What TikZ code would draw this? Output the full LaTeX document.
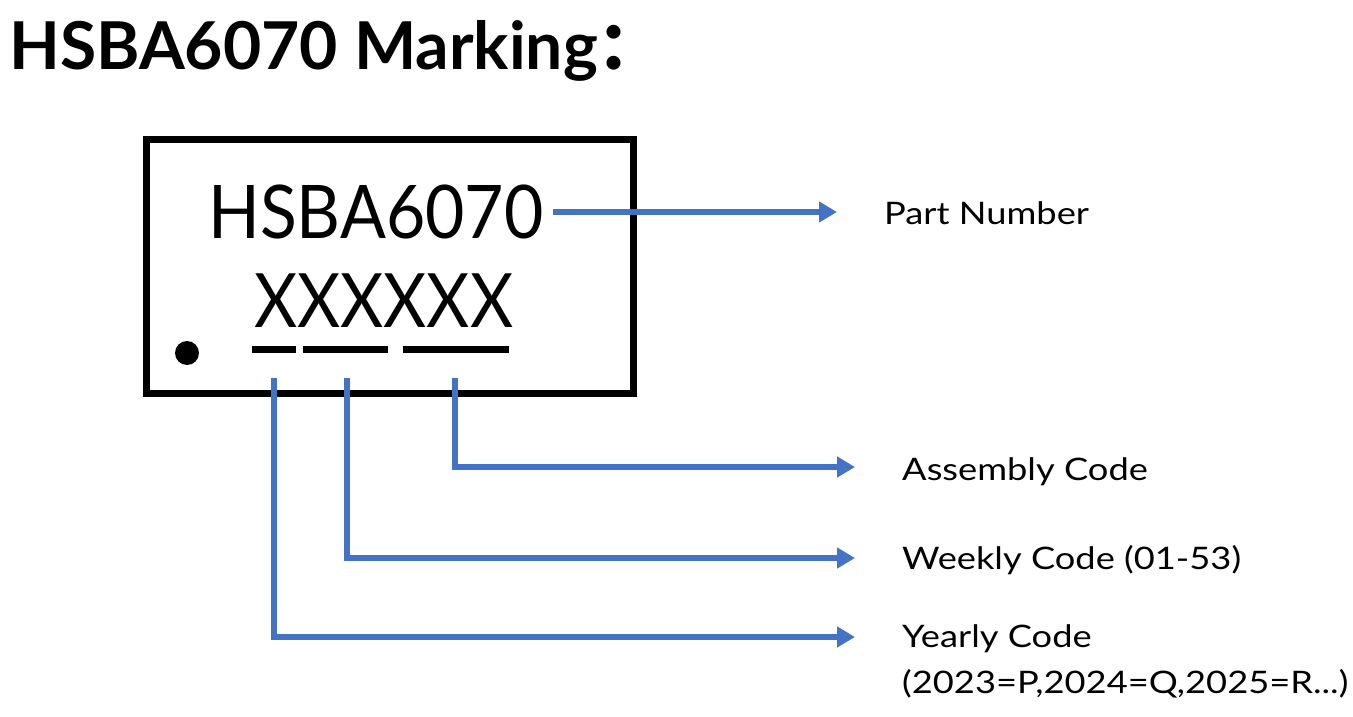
\documentclass[tikz,border=0pt]{standalone}
\usepackage{fontspec}
\usepackage{graphicx}
\setmainfont{Lato}
\newfontfamily\cjkfont{Noto Sans CJK SC}
\usetikzlibrary{arrows.meta}
\definecolor{linkblue}{HTML}{4472C4}
\newcommand{\wdlbl}[1]{\scalebox{1.17}[1]{#1}}
\tikzset{
  txt/.style={inner sep=0pt, anchor=base west, text=black},
  lbl/.style={txt, font=\fontsize{31}{46}\selectfont},
  link/.style={draw=linkblue, line width=6pt, -{Triangle[length=18pt,width=20pt]}},
  uline/.style={draw=black, line width=7pt},
  chipbox/.style={draw=black, line width=6.5pt, fill=none}
}
\begin{document}
\begin{tikzpicture}[x=1pt,y=-1pt]
\fill[white] (0,0) rectangle (1353,717);
\useasboundingbox (0,0) rectangle (1353,717);
% title
\node[txt, font=\fontsize{66}{70}\selectfont\bfseries] (title) at (9,70) {HSBA6070 Marking{\cjkfont\bfseries ：}};
% chip
\draw[chipbox] (146.5,139.5) rectangle (633.5,393.5);
\node[txt, font=\fontsize{74}{80}\selectfont] (pn) at (208,238) {\scalebox{0.917}[1]{HSBA6070}};
\node[txt, font=\fontsize{75}{80}\selectfont] (xx) at (254,327) {\scalebox{0.887}[1]{XXXXXX}};
\node[circle, fill=black, inner sep=0pt, minimum size=24pt] (dot) at (187,353) {};
\draw[uline] (252,349) coordinate (u1a) -- (296,349) coordinate (u1b);
\draw[uline] (303,349) coordinate (u2a) -- (388,349) coordinate (u2b);
\draw[uline] (403,349) coordinate (u3a) -- (509,349) coordinate (u3b);
% labels
\node[lbl] (lpn) at (884,224) {\wdlbl{Part Number}};
\node[lbl] (las) at (902,480) {\wdlbl{Assembly Code}};
\node[lbl] (lwk) at (902,569) {\wdlbl{Weekly Code (01-53)}};
\node[lbl] (lyr) at (902,647) {\wdlbl{Yearly Code}};
\node[lbl] (lyr2) at (902,693) {\wdlbl{(2023=P,2024=Q,2025=R...)}};
% connector points
\coordinate (pns) at (553,212);
\coordinate (pne) at (837,212);
\coordinate (yrs) at (274,378);
\coordinate (wks) at (347,378);
\coordinate (ass) at (455,378);
\coordinate (yre) at (855,637);
\coordinate (wke) at (855,558);
\coordinate (ase) at (855,467);
\draw[link] (pns) -- (pne);
\draw[link] (ass) |- (ase);
\draw[link] (wks) |- (wke);
\draw[link] (yrs) |- (yre);
\end{tikzpicture}
\end{document}
